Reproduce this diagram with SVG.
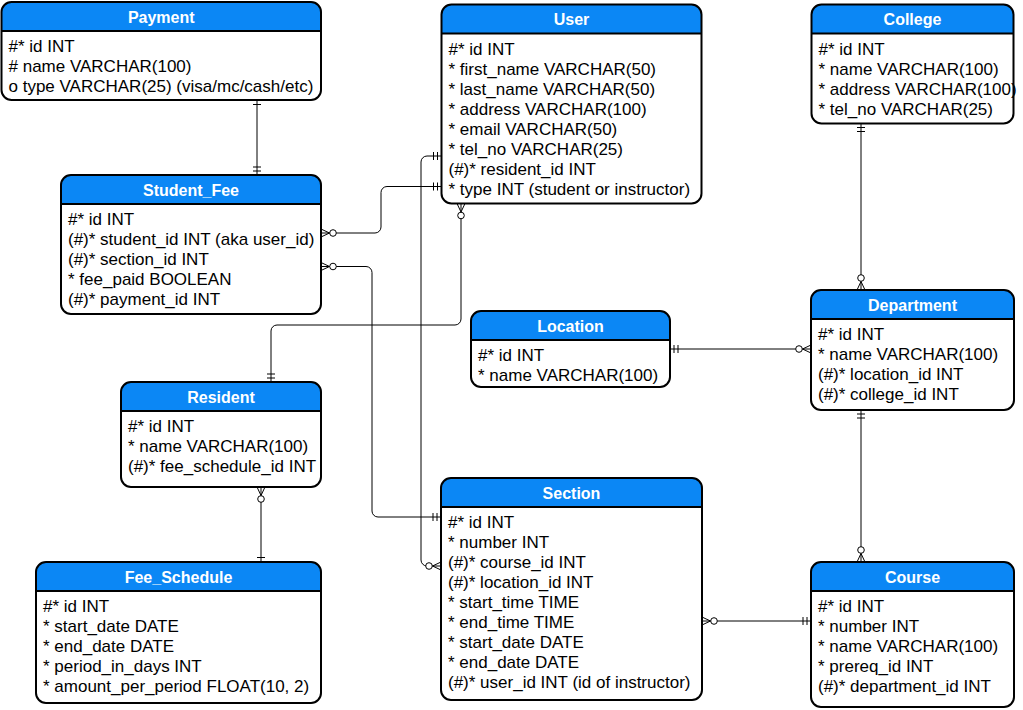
<svg xmlns="http://www.w3.org/2000/svg" width="1023" height="710" viewBox="0 0 1023 710">
<style>
.bg{fill:#fff;stroke:none}
.hdr{fill:#0b87f5;stroke:none}
.ol{fill:none;stroke:#000;stroke-width:2}
.t{font-family:"Liberation Sans",Arial,Helvetica,sans-serif;font-size:16px;font-weight:bold;fill:#fff;text-anchor:middle}
.r{font-family:"Liberation Sans",Arial,Helvetica,sans-serif;font-size:17px;fill:#000}
.c{fill:none;stroke:#000;stroke-width:1}
.mk{fill:none;stroke:#000;stroke-width:1}
</style>
<defs>
<marker id="mand" markerUnits="userSpaceOnUse" viewBox="-20 -10 24 20" markerWidth="24" markerHeight="20" refX="0" refY="0" orient="auto-start-reverse"><path class="mk" d="M-4,-4V4M-8,-4V4"/></marker>
<marker id="one" markerUnits="userSpaceOnUse" viewBox="-20 -10 24 20" markerWidth="24" markerHeight="20" refX="0" refY="0" orient="auto-start-reverse"><path class="mk" d="M-4.5,-4V4"/></marker>
<marker id="zm" markerUnits="userSpaceOnUse" viewBox="-20 -10 24 20" markerWidth="24" markerHeight="20" refX="0" refY="0" orient="auto-start-reverse"><path class="mk" d="M0,-4L-8.5,0L0,4"/><circle cx="-12" cy="0" r="3.3" fill="#fff" stroke="#000" stroke-width="1"/></marker>
</defs>
<rect width="1023" height="710" fill="#fff"/>
<g id="connectors">
<path class="c" d="M257,100V175" marker-start="url(#one)" marker-end="url(#mand)"/>
<path class="c" d="M321,233H375A6,6 0 0 0 381,227V192.5A6,6 0 0 1 387,186.5H441.5" marker-start="url(#zm)" marker-end="url(#mand)"/>
<path class="c" d="M321,266.5H366A6,6 0 0 1 372,272.5V511A6,6 0 0 0 378,517H441" marker-start="url(#zm)" marker-end="url(#mand)"/>
<path class="c" d="M441.5,156H427A6,6 0 0 0 421,162V560A6,6 0 0 0 427,566H441" marker-start="url(#mand)" marker-end="url(#zm)"/>
<path class="c" d="M461,203.5V319A6,6 0 0 1 455,325H277A6,6 0 0 0 271,331V382" marker-start="url(#zm)" marker-end="url(#mand)"/>
<path class="c" d="M670,349H811" marker-start="url(#mand)" marker-end="url(#zm)"/>
<path class="c" d="M702,621H811" marker-start="url(#zm)" marker-end="url(#mand)"/>
<path class="c" d="M861,123.5V290" marker-start="url(#mand)" marker-end="url(#zm)"/>
<path class="c" d="M861,410V562" marker-start="url(#mand)" marker-end="url(#zm)"/>
<path class="c" d="M261,487V562" marker-start="url(#zm)" marker-end="url(#one)"/>
</g>
<g id="Payment">
<rect class="bg" x="1.5" y="2" width="319.5" height="98" rx="10"/>
<path class="hdr" d="M1.5,31V12A10,10 0 0 1 11.5,2H311A10,10 0 0 1 321,12V31Z"/>
<path class="ol" d="M1.5,31H321"/>
<rect class="ol" x="1.5" y="2" width="319.5" height="98" rx="10"/>
<text class="t" x="161.25" y="22.5">Payment</text>
<text class="r" y="51.5"><tspan x="8.5">#* id INT</tspan><tspan x="8.5" dy="20"># name VARCHAR(100)</tspan><tspan x="8.5" dy="20">o type VARCHAR(25) (visa/mc/cash/etc)</tspan></text>
</g>
<g id="User">
<rect class="bg" x="441.5" y="4.5" width="260" height="199" rx="10"/>
<path class="hdr" d="M441.5,33.5V14.5A10,10 0 0 1 451.5,4.5H691.5A10,10 0 0 1 701.5,14.5V33.5Z"/>
<path class="ol" d="M441.5,33.5H701.5"/>
<rect class="ol" x="441.5" y="4.5" width="260" height="199" rx="10"/>
<text class="t" x="571.5" y="25">User</text>
<text class="r" y="54.5"><tspan x="448.5">#* id INT</tspan><tspan x="448.5" dy="20">* first_name VARCHAR(50)</tspan><tspan x="448.5" dy="20">* last_name VARCHAR(50)</tspan><tspan x="448.5" dy="20">* address VARCHAR(100)</tspan><tspan x="448.5" dy="20">* email VARCHAR(50)</tspan><tspan x="448.5" dy="20">* tel_no VARCHAR(25)</tspan><tspan x="448.5" dy="20">(#)* resident_id INT</tspan><tspan x="448.5" dy="20">* type INT (student or instructor)</tspan></text>
</g>
<g id="College">
<rect class="bg" x="811.5" y="4.5" width="202" height="119" rx="10"/>
<path class="hdr" d="M811.5,33.5V14.5A10,10 0 0 1 821.5,4.5H1003.5A10,10 0 0 1 1013.5,14.5V33.5Z"/>
<path class="ol" d="M811.5,33.5H1013.5"/>
<rect class="ol" x="811.5" y="4.5" width="202" height="119" rx="10"/>
<text class="t" x="912.5" y="25">College</text>
<text class="r" y="54.5"><tspan x="818.5">#* id INT</tspan><tspan x="818.5" dy="20">* name VARCHAR(100)</tspan><tspan x="818.5" dy="20">* address VARCHAR(100)</tspan><tspan x="818.5" dy="20">* tel_no VARCHAR(25)</tspan></text>
</g>
<g id="Student_Fee">
<rect class="bg" x="61" y="175" width="260" height="139" rx="10"/>
<path class="hdr" d="M61,204V185A10,10 0 0 1 71,175H311A10,10 0 0 1 321,185V204Z"/>
<path class="ol" d="M61,204H321"/>
<rect class="ol" x="61" y="175" width="260" height="139" rx="10"/>
<text class="t" x="191" y="195.5">Student_Fee</text>
<text class="r" y="225"><tspan x="68">#* id INT</tspan><tspan x="68" dy="20">(#)* student_id INT (aka user_id)</tspan><tspan x="68" dy="20">(#)* section_id INT</tspan><tspan x="68" dy="20">* fee_paid BOOLEAN</tspan><tspan x="68" dy="20">(#)* payment_id INT</tspan></text>
</g>
<g id="Location">
<rect class="bg" x="471" y="311" width="199" height="76" rx="10"/>
<path class="hdr" d="M471,340V321A10,10 0 0 1 481,311H660A10,10 0 0 1 670,321V340Z"/>
<path class="ol" d="M471,340H670"/>
<rect class="ol" x="471" y="311" width="199" height="76" rx="10"/>
<text class="t" x="570.5" y="331.5">Location</text>
<text class="r" y="361"><tspan x="478">#* id INT</tspan><tspan x="478" dy="20">* name VARCHAR(100)</tspan></text>
</g>
<g id="Department">
<rect class="bg" x="811" y="290" width="203" height="120" rx="10"/>
<path class="hdr" d="M811,319V300A10,10 0 0 1 821,290H1004A10,10 0 0 1 1014,300V319Z"/>
<path class="ol" d="M811,319H1014"/>
<rect class="ol" x="811" y="290" width="203" height="120" rx="10"/>
<text class="t" x="912.5" y="310.5">Department</text>
<text class="r" y="340"><tspan x="818">#* id INT</tspan><tspan x="818" dy="20">* name VARCHAR(100)</tspan><tspan x="818" dy="20">(#)* location_id INT</tspan><tspan x="818" dy="20">(#)* college_id INT</tspan></text>
</g>
<g id="Resident">
<rect class="bg" x="121" y="382" width="200" height="105" rx="10"/>
<path class="hdr" d="M121,411V392A10,10 0 0 1 131,382H311A10,10 0 0 1 321,392V411Z"/>
<path class="ol" d="M121,411H321"/>
<rect class="ol" x="121" y="382" width="200" height="105" rx="10"/>
<text class="t" x="221" y="402.5">Resident</text>
<text class="r" y="432"><tspan x="128">#* id INT</tspan><tspan x="128" dy="20">* name VARCHAR(100)</tspan><tspan x="128" dy="20">(#)* fee_schedule_id INT</tspan></text>
</g>
<g id="Section">
<rect class="bg" x="441" y="478" width="261" height="222" rx="10"/>
<path class="hdr" d="M441,507V488A10,10 0 0 1 451,478H692A10,10 0 0 1 702,488V507Z"/>
<path class="ol" d="M441,507H702"/>
<rect class="ol" x="441" y="478" width="261" height="222" rx="10"/>
<text class="t" x="571.5" y="498.5">Section</text>
<text class="r" y="528"><tspan x="448">#* id INT</tspan><tspan x="448" dy="20">* number INT</tspan><tspan x="448" dy="20">(#)* course_id INT</tspan><tspan x="448" dy="20">(#)* location_id INT</tspan><tspan x="448" dy="20">* start_time TIME</tspan><tspan x="448" dy="20">* end_time TIME</tspan><tspan x="448" dy="20">* start_date DATE</tspan><tspan x="448" dy="20">* end_date DATE</tspan><tspan x="448" dy="20">(#)* user_id INT (id of instructor)</tspan></text>
</g>
<g id="Fee_Schedule">
<rect class="bg" x="36" y="562" width="285" height="141" rx="10"/>
<path class="hdr" d="M36,591V572A10,10 0 0 1 46,562H311A10,10 0 0 1 321,572V591Z"/>
<path class="ol" d="M36,591H321"/>
<rect class="ol" x="36" y="562" width="285" height="141" rx="10"/>
<text class="t" x="178.5" y="582.5">Fee_Schedule</text>
<text class="r" y="612"><tspan x="43">#* id INT</tspan><tspan x="43" dy="20">* start_date DATE</tspan><tspan x="43" dy="20">* end_date DATE</tspan><tspan x="43" dy="20">* period_in_days INT</tspan><tspan x="43" dy="20">* amount_per_period FLOAT(10, 2)</tspan></text>
</g>
<g id="Course">
<rect class="bg" x="811" y="562" width="203" height="145" rx="10"/>
<path class="hdr" d="M811,591V572A10,10 0 0 1 821,562H1004A10,10 0 0 1 1014,572V591Z"/>
<path class="ol" d="M811,591H1014"/>
<rect class="ol" x="811" y="562" width="203" height="145" rx="10"/>
<text class="t" x="912.5" y="582.5">Course</text>
<text class="r" y="612"><tspan x="818">#* id INT</tspan><tspan x="818" dy="20">* number INT</tspan><tspan x="818" dy="20">* name VARCHAR(100)</tspan><tspan x="818" dy="20">* prereq_id INT</tspan><tspan x="818" dy="20">(#)* department_id INT</tspan></text>
</g>
</svg>
